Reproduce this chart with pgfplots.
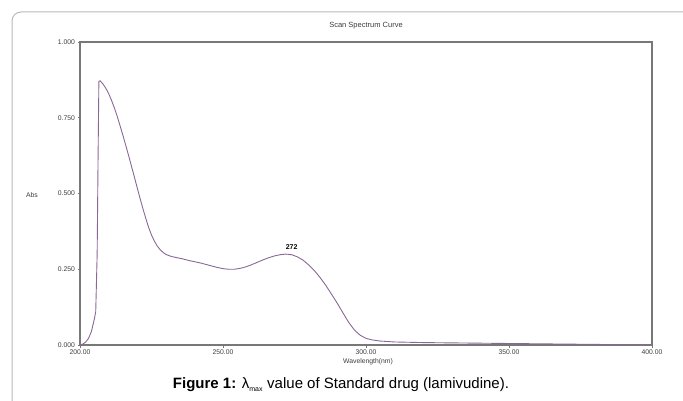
\documentclass[border=0pt]{standalone}
\usepackage{pgfplots}
\pgfplotsset{compat=1.18}
\usepackage{fontspec}
\setmainfont{Liberation Sans}
\definecolor{curve}{RGB}{138,104,150}
\definecolor{axgray}{RGB}{120,120,120}
\definecolor{framegray}{RGB}{185,185,185}
\definecolor{ticktext}{RGB}{60,60,60}
\begin{document}
\begin{tikzpicture}[x=1pt,y=1pt]
\path[use as bounding box] (0,0) rectangle (683,400);
\begin{scope}
\clip (0,0) rectangle (683,400);
\draw[framegray, line width=1pt, rounded corners=9pt] (12,-20) -- (12,388) -- (720,388);
\end{scope}
\begin{axis}[
  at={(80pt,55pt)}, anchor=south west,
  scale only axis, width=572pt, height=303pt,
  xmin=200, xmax=400, ymin=0, ymax=1,
  axis line style={axgray, line width=1.2pt},
  xtick={200,250,300,350,400},
  ytick={0,0.25,0.5,0.75,1},
  tick align=outside,
  major tick length=2.5pt,
  tick style={axgray, line width=0.6pt},
  xtick pos=bottom, ytick pos=left,
  /pgf/number format/assume math mode=true,
  xticklabel style={/pgf/number format/.cd, fixed, fixed zerofill, precision=2, 1000 sep={}},
  yticklabel style={/pgf/number format/.cd, fixed, fixed zerofill, precision=3},
  tick label style={font=\fontsize{6.8}{7.5}\selectfont, text=ticktext},
  xticklabel shift=-1pt,
  yticklabel shift=-1pt,
  title={Scan Spectrum Curve},
  title style={font=\fontsize{7.5}{8}\selectfont, text=ticktext, at={(0.5,1)}, anchor=south, yshift=3pt},
  clip=false,
]
\addplot[curve, line width=0.9pt] coordinates {
(200,0.000) (201,0.003) (202,0.010) (203,0.022) (204,0.045) (205,0.085) (205.5,0.11)
(206,0.30) (206.3,0.60) (206.6,0.87) (207,0.872) (208,0.862) (209,0.848) (210,0.830)
(211,0.808) (212,0.783) (213,0.755) (214,0.724) (215,0.692) (216,0.659) (217,0.625)
(218,0.590) (219,0.555) (220,0.519) (221,0.484) (222,0.450) (223,0.418) (224,0.388)
(225,0.363) (226,0.343) (227,0.327) (228,0.315) (229,0.306) (230,0.299) (232,0.292)
(234,0.288) (236,0.284) (238,0.279) (240,0.275) (242,0.271) (244,0.266) (246,0.261)
(248,0.256) (250,0.252) (252,0.250) (254,0.250) (256,0.253) (258,0.258) (260,0.265)
(262,0.273) (264,0.281) (266,0.288) (268,0.294) (270,0.298) (272,0.300) (274,0.298)
(276,0.291) (278,0.280) (280,0.264) (282,0.245) (284,0.222) (286,0.196) (288,0.167)
(290,0.137) (292,0.105) (294,0.074) (296,0.049) (298,0.032) (300,0.022) (302,0.017)
(305,0.013) (310,0.010) (320,0.008) (330,0.007) (340,0.006) (350,0.005) (360,0.004)
(370,0.003) (380,0.002) (390,0.001) (400,0.000)
};
\node[font=\bfseries\fontsize{7}{8}\selectfont] at (axis cs:274,0.322) {272};
\end{axis}
\node[font=\fontsize{6.8}{7.5}\selectfont, text=ticktext] at (32,205) {Abs};
\node[font=\fontsize{6.8}{7.5}\selectfont, text=ticktext] at (368,38) {Wavelength(nm)};
\node[font=\fontsize{15}{17}\selectfont] at (341,15) {\textbf{Figure 1:} λ\textsubscript{\fontsize{7}{8}\selectfont max} value of Standard drug (lamivudine).};
\end{tikzpicture}
\end{document}
